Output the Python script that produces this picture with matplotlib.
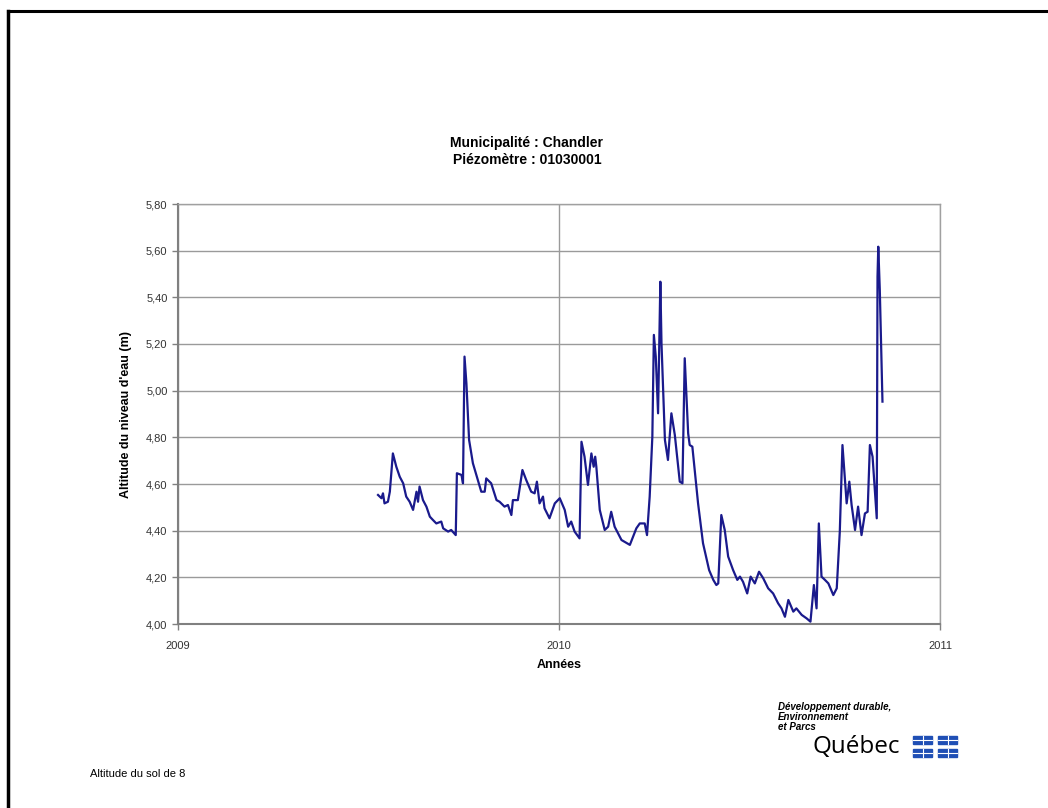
import numpy as np
import matplotlib
matplotlib.use('Agg')
import matplotlib.pyplot as plt
from matplotlib.lines import Line2D
from matplotlib.patches import Rectangle
from matplotlib.ticker import FuncFormatter

## Data (decimal year, water level in m)
years = [
    2009.525, 2009.534, 2009.538, 2009.542, 2009.551, 2009.556, 2009.564, 2009.573,
    2009.582, 2009.591, 2009.599, 2009.608, 2009.617, 2009.626, 2009.630, 2009.634,
    2009.643, 2009.652, 2009.661, 2009.669, 2009.678, 2009.691, 2009.696, 2009.709,
    2009.717, 2009.729, 2009.732, 2009.744, 2009.748, 2009.752, 2009.757, 2009.764,
    2009.774, 2009.787, 2009.796, 2009.805, 2009.809, 2009.822, 2009.836, 2009.844,
    2009.857, 2009.866, 2009.875, 2009.879, 2009.892, 2009.904, 2009.914, 2009.927,
    2009.936, 2009.942, 2009.949, 2009.958, 2009.962, 2009.975, 2009.989, 2010.002,
    2010.015, 2010.024, 2010.032, 2010.041, 2010.054, 2010.059, 2010.067, 2010.076,
    2010.085, 2010.091, 2010.095, 2010.098, 2010.107, 2010.120, 2010.129, 2010.137,
    2010.146, 2010.164, 2010.186, 2010.203, 2010.212, 2010.225, 2010.231, 2010.238,
    2010.245, 2010.249, 2010.254, 2010.260, 2010.266, 2010.269, 2010.278, 2010.286,
    2010.295, 2010.304, 2010.317, 2010.324, 2010.330, 2010.339, 2010.343, 2010.350,
    2010.365, 2010.378, 2010.394, 2010.405, 2010.413, 2010.418, 2010.426, 2010.435,
    2010.444, 2010.457, 2010.468, 2010.475, 2010.483, 2010.494, 2010.503, 2010.514,
    2010.525, 2010.536, 2010.549, 2010.562, 2010.575, 2010.584, 2010.593, 2010.602,
    2010.615, 2010.623, 2010.637, 2010.650, 2010.660, 2010.669, 2010.676, 2010.682,
    2010.689, 2010.698, 2010.707, 2010.720, 2010.729, 2010.737, 2010.744, 2010.755,
    2010.762, 2010.768, 2010.777, 2010.785, 2010.794, 2010.803, 2010.810, 2010.816,
    2010.823, 2010.834, 2010.836, 2010.838, 2010.842, 2010.849,
]
levels = [
    4.553, 4.539, 4.560, 4.517, 4.524, 4.567, 4.731, 4.674,
    4.631, 4.603, 4.546, 4.524, 4.489, 4.567, 4.524, 4.589,
    4.531, 4.503, 4.460, 4.446, 4.431, 4.439, 4.410, 4.396,
    4.403, 4.381, 4.646, 4.639, 4.603, 5.146, 5.031, 4.789,
    4.689, 4.617, 4.567, 4.567, 4.624, 4.603, 4.531, 4.524,
    4.503, 4.510, 4.467, 4.531, 4.531, 4.660, 4.617, 4.567,
    4.560, 4.610, 4.517, 4.546, 4.496, 4.453, 4.517, 4.539,
    4.489, 4.417, 4.439, 4.396, 4.367, 4.781, 4.717, 4.596,
    4.731, 4.674, 4.717, 4.674, 4.489, 4.403, 4.417, 4.481,
    4.417, 4.360, 4.339, 4.410, 4.431, 4.431, 4.381, 4.546,
    4.803, 5.239, 5.146, 4.903, 5.467, 5.203, 4.789, 4.703,
    4.903, 4.810, 4.610, 4.603, 5.139, 4.817, 4.767, 4.760,
    4.517, 4.346, 4.231, 4.189, 4.167, 4.174, 4.467, 4.403,
    4.289, 4.231, 4.189, 4.203, 4.181, 4.131, 4.203, 4.174,
    4.224, 4.196, 4.153, 4.131, 4.089, 4.067, 4.031, 4.103,
    4.053, 4.067, 4.039, 4.024, 4.010, 4.167, 4.067, 4.431,
    4.203, 4.189, 4.174, 4.124, 4.153, 4.396, 4.767, 4.517,
    4.610, 4.510, 4.403, 4.503, 4.381, 4.474, 4.481, 4.767,
    4.717, 4.453, 5.489, 5.617, 5.431, 4.953,
]
x_ticks = [2009, 2010, 2011]
y_ticks = [4.0, 4.2, 4.4, 4.6, 4.8, 5.0, 5.2, 5.4, 5.6, 5.8]

title_lines = ['Municipalité : Chandler', 'Piézomètre : 01030001']
x_label = 'Années'
y_label = "Altitude du niveau d'eau (m)"
note = 'Altitude du sol de 8'

plt.rcParams['font.family'] = ['Liberation Sans', 'DejaVu Sans']


def comma_fmt(v, pos):
    return '{0:.2f}'.format(v).replace('.', ',')


def main():
    fig = plt.figure(figsize=(10.48, 8.08), dpi=100)
    fig.patch.set_facecolor('white')

    # page frame (top and left only)
    fig.add_artist(Line2D([7.5 / 1048, 1.0], [1 - 11 / 808, 1 - 11 / 808],
                          transform=fig.transFigure, color='black', lw=2.2))
    fig.add_artist(Line2D([7.5 / 1048, 7.5 / 1048], [0.0, 1 - 11 / 808],
                          transform=fig.transFigure, color='black', lw=2.5))

    ax = fig.add_axes([178 / 1048, 1 - 624 / 808, 762 / 1048, 420 / 808])
    ax.plot(years, levels, color='#1a1a8c', lw=1.6)

    ax.set_xlim(2009, 2011)
    ax.set_ylim(4.0, 5.8)
    ax.set_xticks(x_ticks)
    ax.set_xticklabels([str(t) for t in x_ticks])
    ax.set_yticks(y_ticks)
    ax.yaxis.set_major_formatter(FuncFormatter(comma_fmt))

    ax.grid(True, axis='y', color='#9a9a9a', lw=1.0)
    ax.grid(True, axis='x', color='#9a9a9a', lw=1.0)
    ax.set_axisbelow(True)
    for side in ['top', 'right']:
        ax.spines[side].set_color('#a0a0a0')
        ax.spines[side].set_linewidth(1.0)
    for side in ['left', 'bottom']:
        ax.spines[side].set_color('#808080')
        ax.spines[side].set_linewidth(1.5)
    ax.tick_params(axis='both', colors='#808080', labelcolor='#333333',
                   labelsize=8, length=4, width=1)
    ax.tick_params(axis='x', pad=8)

    ax.set_xlabel(x_label, fontsize=9, fontweight='bold', labelpad=6)
    ax.set_ylabel(y_label, fontsize=9, fontweight='bold', labelpad=10)

    fig.text(527 / 1048, 1 - 143 / 808, title_lines[0], ha='center', va='center',
             fontsize=10, fontweight='bold')
    fig.text(527 / 1048, 1 - 160 / 808, title_lines[1], ha='center', va='center',
             fontsize=10, fontweight='bold')

    fig.text(90 / 1048, 1 - 774 / 808, note, ha='left', va='center', fontsize=8)

    # ministry logo
    for i, line in enumerate(['Développement durable,', 'Environnement', 'et Parcs']):
        fig.text(778 / 1048, 1 - (707 + i * 10) / 808, line, ha='left', va='center',
                 fontsize=7, fontweight='bold', style='italic')
    fig.text(813 / 1048, 1 - 747 / 808, 'Québec', ha='left', va='center',
             fontsize=17.5, family=['Open Sans', 'DejaVu Sans'])
    for (px, py) in [(913, 736), (938, 736), (913, 749), (938, 749)]:
        w, h = 19, 8
        fig.add_artist(Rectangle((px / 1048, 1 - (py + h) / 808), w / 1048, h / 808,
                                 transform=fig.transFigure, color='#1f4fb5'))
        fig.add_artist(Line2D([(px + w / 2) / 1048] * 2,
                              [1 - (py + h) / 808, 1 - py / 808],
                              transform=fig.transFigure, color='white', lw=0.8))
        fig.add_artist(Line2D([px / 1048, (px + w) / 1048],
                              [1 - (py + h / 2) / 808] * 2,
                              transform=fig.transFigure, color='white', lw=0.8))

    fig.savefig('out.png', dpi=100)


if __name__ == '__main__':
    main()
